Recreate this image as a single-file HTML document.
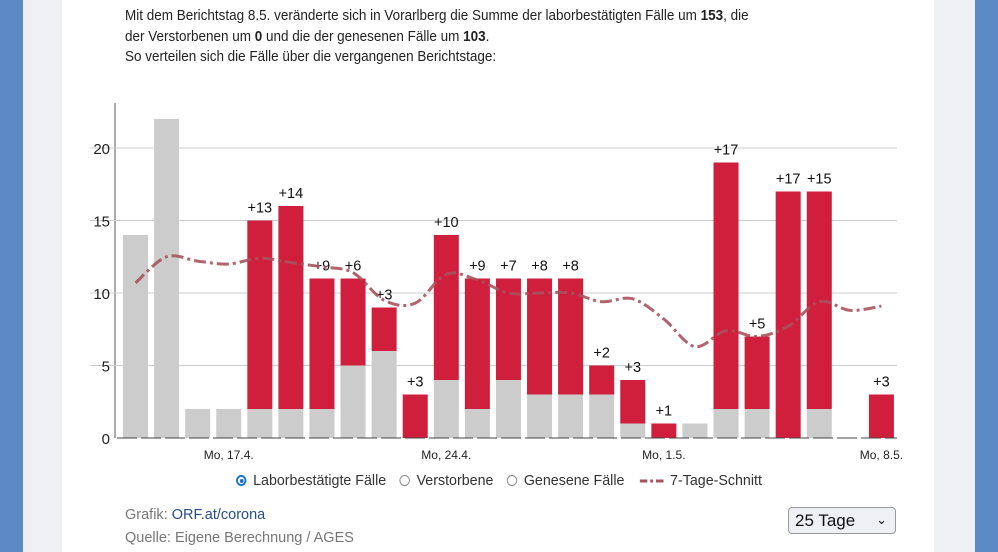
<!DOCTYPE html>
<html><head><meta charset="utf-8"><style>
body{margin:0;width:998px;height:552px;overflow:hidden;background:#eef0f4;font-family:"Liberation Sans Narrow","Liberation Sans",sans-serif;position:relative}
.blue{position:absolute;top:0;bottom:0;background:#5b8ac4}
#panel{position:absolute;left:62px;top:0;width:872px;height:552px;background:#fff}
.intro{position:absolute;left:125px;top:6px;font-size:14.5px;line-height:20.5px;color:#222;transform:scaleX(0.93);transform-origin:0 0;white-space:nowrap}
.legend{position:absolute;top:472px;left:236px;font-size:15px;color:#333;display:flex;align-items:center;transform:scaleX(0.95);transform-origin:0 0;white-space:nowrap}
.radio{display:inline-block;width:11px;height:11px;border:1px solid #888;border-radius:50%;margin-right:7px;box-sizing:border-box;position:relative}
.radio.on{border:2px solid #1a73c8}.radio.on::after{content:"";position:absolute;left:1.5px;top:1.5px;width:4px;height:4px;border-radius:50%;background:#1a73c8}
.foot{position:absolute;left:125px;font-size:14.5px;color:#777}
.sel{position:absolute;left:788px;top:507px;width:108px;height:27px;border:1px solid #999;border-radius:4px;background:#eef0f4;font-size:17px;color:#111;box-sizing:border-box;padding:3px 6px}
</style></head><body>
<div class="blue" style="left:0;width:23px"></div>
<div class="blue" style="left:975px;width:23px"></div>
<div id="panel"></div>
<div class="intro">Mit dem Berichtstag 8.5. veränderte sich in Vorarlberg die Summe der laborbestätigten Fälle um <b>153</b>, die<br>der Verstorbenen um <b>0</b> und die der genesenen Fälle um <b>103</b>.<br>So verteilen sich die Fälle über die vergangenen Berichtstage:</div>
<svg id="chart" style="position:absolute;left:0;top:0" width="998" height="470"></svg>
<div class="legend">
<span style="display:flex;align-items:center;margin-right:14px"><span class="radio on"></span>Laborbestätigte Fälle</span>
<span style="display:flex;align-items:center;margin-right:14px"><span class="radio"></span>Verstorbene</span>
<span style="display:flex;align-items:center;margin-right:16px"><span class="radio"></span>Genesene Fälle</span>
<span style="display:flex;align-items:center"><svg width="26" height="10" style="margin-right:6px"><line x1="0" y1="5" x2="26" y2="5" stroke="#a8525e" stroke-width="3" stroke-dasharray="8 3 3 3"/></svg>7-Tage-Schnitt</span>
</div>
<div class="foot" style="top:507px">Grafik: <span style="color:#2a4d8a">ORF.at/corona</span></div>
<div class="foot" style="top:530px">Quelle: Eigene Berechnung / AGES</div>
<div class="sel">25 Tage<span style="position:absolute;right:8px;top:4px;font-size:13px">⌄</span></div>
<script>
const days=[1,2,3,4,5,6,7,8,9,10,11,12,13,14,15,16,17,18,19,20,21,22,23,24,25];
const recovered=[14,22,2,2,2,2,2,5,6,0,4,2,4,3,3,3,1,0,1,2,2,0,2,0,0];
const confirmed=[0,0,0,0,13,14,9,6,3,3,10,9,7,8,8,2,3,1,0,17,5,17,15,0,3];
const avg7=[10.7,12.5,12.2,12.0,12.4,12.1,11.8,11.4,9.5,9.3,11.3,10.9,10.0,10.0,10.0,9.4,9.6,8.2,6.3,7.4,7.0,7.7,9.4,8.8,9.1];
const yTicks=[0,5,10,15,20];
const xLabels={4:"Mo, 17.4.",11:"Mo, 24.4.",18:"Mo, 1.5.",25:"Mo, 8.5."};
const svg=document.getElementById('chart');const NS="http://www.w3.org/2000/svg";
const y=v=>438-v*14.5; const xc=i=>135.5+i*31.08; const bw=25;
function mk(t,a){const e=document.createElementNS(NS,t);for(const k in a)e.setAttribute(k,a[k]);svg.appendChild(e);return e;}
let e=mk('line',{x1:115,y1:103,x2:115,y2:438,stroke:'#555','stroke-width':1});


yTicks.forEach(t=>{if(t>0){const g=mk('line',{x1:90,x2:897,y1:y(t),y2:y(t),stroke:'#ccc','stroke-width':1});

}
const l=mk('text',{x:110,y:y(t)+6,'text-anchor':'end','font-size':15,fill:'#222','font-family':'Liberation Sans Narrow,Liberation Sans,sans-serif'});l.textContent=t;

});
days.forEach((d,i)=>{const cx=xc(i);
if(recovered[i]>0){const r=mk('rect',{x:cx-bw/2,y:y(recovered[i]),width:bw,height:recovered[i]*14.5,fill:'#cccccc'});

}
if(confirmed[i]>0){const top=recovered[i]+confirmed[i];const r=mk('rect',{x:cx-bw/2,y:y(top),width:bw,height:confirmed[i]*14.5,fill:'#cf1f3c'});


const t=mk('text',{x:cx,y:y(top)-8,'text-anchor':'middle','font-size':14.5,fill:'#111','font-family':'Liberation Sans Narrow,Liberation Sans,sans-serif'});t.textContent='+'+confirmed[i];

}
if(xLabels[d]){const t=mk('text',{x:cx,y:459,'text-anchor':'middle','font-size':12,fill:'#222','font-family':'Liberation Sans Narrow,Liberation Sans,sans-serif'});t.textContent=xLabels[d];

}});
e=mk('line',{x1:117,y1:438,x2:897,y2:438,stroke:'#444','stroke-width':1,'stroke-dasharray':'20 4'});


const pts=avg7.map((v,i)=>[xc(i),y(v)]);
let dstr='M'+pts[0][0]+','+pts[0][1];
for(let i=0;i<pts.length-1;i++){const p0=pts[i-1]||pts[i],p1=pts[i],p2=pts[i+1],p3=pts[i+2]||p2;
dstr+=` C${p1[0]+(p2[0]-p0[0])/6},${p1[1]+(p2[1]-p0[1])/6} ${p2[0]-(p3[0]-p1[0])/6},${p2[1]-(p3[1]-p1[1])/6} ${p2[0]},${p2[1]}`;}
const ln=mk('path',{d:dstr,fill:'none',stroke:'#a8525e','stroke-width':3,'stroke-dasharray':'12 4 3 4','stroke-opacity':0.9});


</script>
</body></html>
